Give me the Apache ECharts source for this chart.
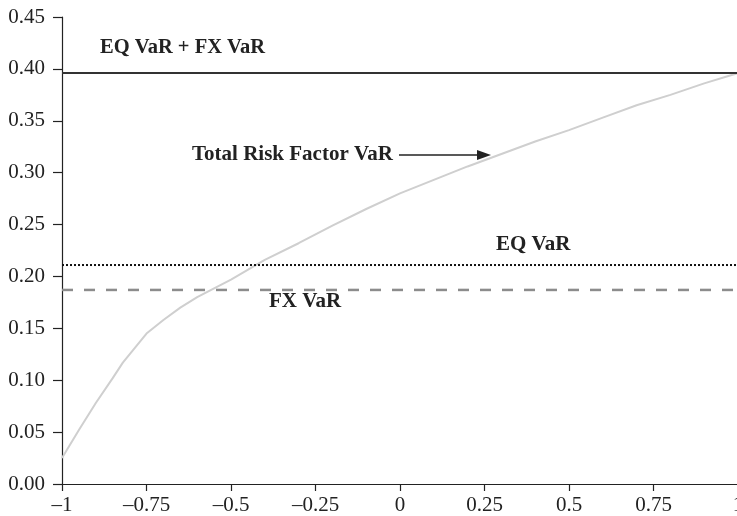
<!DOCTYPE html>
<html>
<head>
<meta charset="utf-8">
<script src="https://cdn.jsdelivr.net/npm/echarts@6/dist/echarts.min.js"></script>
<style>
html,body{margin:0;padding:0;background:#fff;}
#chart{width:737px;height:516px;}
</style>
</head>
<body>
<div id="chart"></div>
<script>
// Data
var xTicks = [-1, -0.75, -0.5, -0.25, 0, 0.25, 0.5, 0.75, 1];
var curveX = [-1, -0.95, -0.9, -0.85, -0.82, -0.75, -0.7, -0.65, -0.6, -0.5, -0.4, -0.3, -0.2, -0.1, 0, 0.1, 0.2, 0.3, 0.4, 0.5, 0.6, 0.7, 0.8, 0.9, 1.0];
var curveY = [0.025, 0.052, 0.078, 0.102, 0.117, 0.145, 0.158, 0.170, 0.180, 0.197, 0.216, 0.232, 0.249, 0.265, 0.280, 0.293, 0.306, 0.318, 0.330, 0.341, 0.353, 0.365, 0.375, 0.386, 0.396];
var eqPlusFx = 0.396;
var eqVaR = 0.211;
var fxVaR = 0.187;
var lineX = [-1, 1];

var serif = '"Liberation Serif", "DejaVu Serif", serif';

function pairs(xs, ys) { return xs.map(function (x, i) { return [x, ys[i]]; }); }
function flat(v) { return lineX.map(function (x) { return [x, v]; }); }

var chart = echarts.init(document.getElementById('chart'), null, {renderer: 'canvas'});
chart.setOption({
  animation: false,
  backgroundColor: '#fff',
  grid: {left: 62, right: -1, top: 17, bottom: 32, containLabel: false, outerBoundsMode: 'none'},
  xAxis: {
    type: 'value', min: -1, max: 1, interval: 0.25,
    axisLine: {show: true, onZero: false, lineStyle: {color: '#222', width: 1.2}},
    axisTick: {show: true, inside: false, length: 7, lineStyle: {color: '#222', width: 1.2}},
    splitLine: {show: false},
    axisLabel: {
      color: '#222', fontFamily: serif, fontSize: 21, margin: 11,
      showMaxLabel: true, showMinLabel: true,
      formatter: function (v) { return String(v).replace('-', '\u2013'); }
    }
  },
  yAxis: {
    type: 'value', min: 0, max: 0.45, interval: 0.05,
    axisLine: {show: true, onZero: false, lineStyle: {color: '#222', width: 1.2}},
    axisTick: {show: true, inside: false, length: 9, lineStyle: {color: '#222', width: 1.2}},
    splitLine: {show: false},
    axisLabel: {
      color: '#222', fontFamily: serif, fontSize: 21, margin: 17,
      formatter: function (v) { return v.toFixed(2); }
    }
  },
  series: [
    {type: 'line', data: pairs(curveX, curveY), symbol: 'none', z: 2,
     lineStyle: {color: '#cfcfcf', width: 2}},
    {type: 'line', data: flat(eqPlusFx), symbol: 'none', z: 3,
     lineStyle: {color: '#333', width: 2}},
    {type: 'line', data: flat(eqVaR), symbol: 'none', z: 3,
     lineStyle: {color: '#111', width: 2, type: [2, 2]}},
    {type: 'line', data: flat(fxVaR), symbol: 'none', z: 3,
     lineStyle: {color: '#8c8c8c', width: 2.5, type: [11, 11]}}
  ],
  graphic: [
    {type: 'text', style: {x: 100, y: 48, verticalAlign: 'middle', text: 'EQ VaR + FX VaR', font: 'bold 20.5px ' + serif, fill: '#222'}},
    {type: 'text', style: {x: 192, y: 155, verticalAlign: 'middle', text: 'Total Risk Factor VaR', font: 'bold 21px ' + serif, fill: '#222'}},
    {type: 'text', style: {x: 496, y: 245, verticalAlign: 'middle', text: 'EQ VaR', font: 'bold 21px ' + serif, fill: '#222'}},
    {type: 'text', style: {x: 269, y: 302, verticalAlign: 'middle', text: 'FX VaR', font: 'bold 21px ' + serif, fill: '#222'}},
    {type: 'line', shape: {x1: 399, y1: 155, x2: 478, y2: 155}, style: {stroke: '#222', lineWidth: 1.5}},
    {type: 'polygon', shape: {points: [[477, 150], [491, 155], [477, 160]]}, style: {fill: '#222'}}
  ]
});
</script>
</body>
</html>
